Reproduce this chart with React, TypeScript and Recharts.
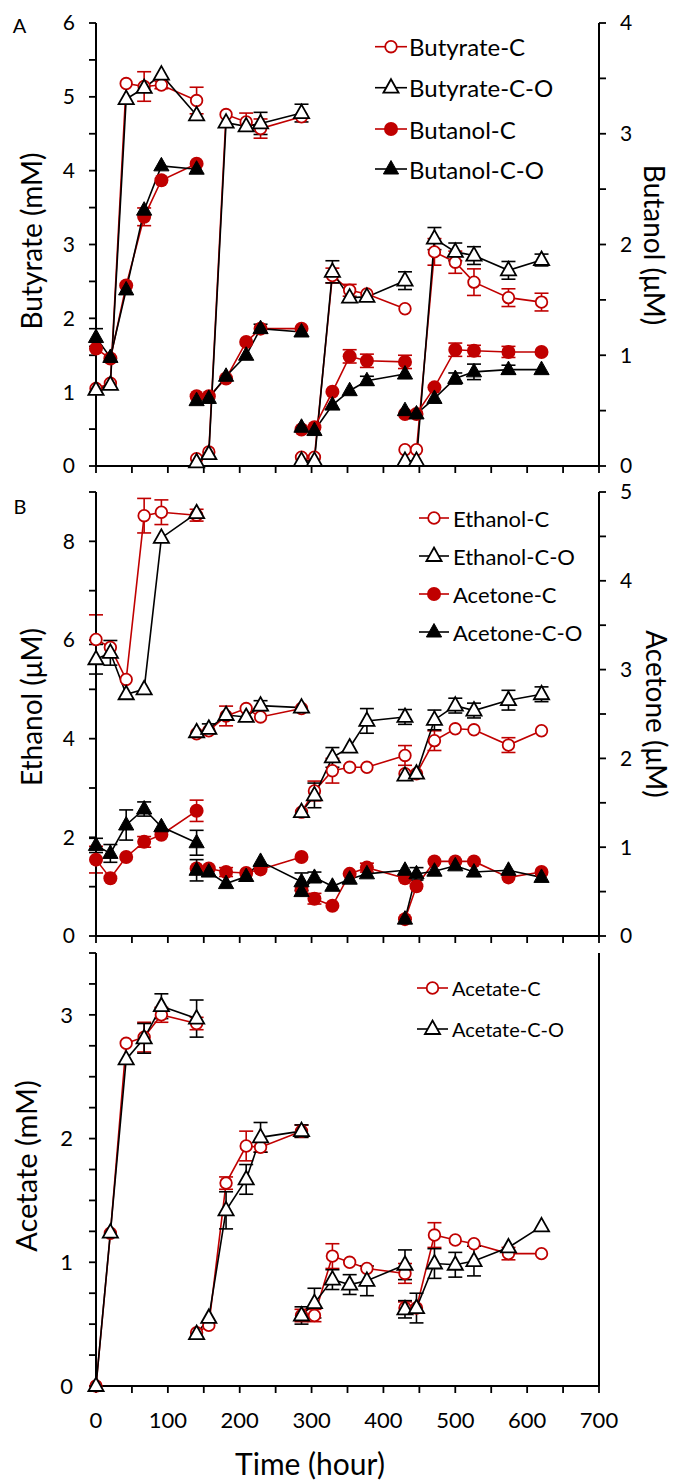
import React from "react";
import { LineChart, Line, XAxis, YAxis, ErrorBar } from "recharts";

const RED = "#C00000";
const BLACK = "#000000";
const FONT = "Lato, 'Open Sans', sans-serif";

// sampling times (hour); each feeding batch starts again at the last time of the previous one
const hours = [0, 20, 42, 67, 91, 140, 140, 157, 181, 209, 229, 286, 286, 304, 329, 353, 377, 430, 430, 446, 471, 500, 526, 574, 620];
const batchStarts = [6, 12, 18];

// panel A
const butyrateC = [1.05, 1.12, 5.18, 5.14, 5.16, 4.95, 0.1, 0.19, 4.76, 4.66, 4.57, 4.73, 0.12, 0.12, 2.58, 2.38, 2.33, 2.13, 0.22, 0.22, 2.9, 2.76, 2.49, 2.28, 2.22];
const butyrateCO = [1.03, 1.1, 4.97, 5.12, 5.3, 4.75, 0.05, 0.16, 4.65, 4.6, 4.64, 4.78, 0.07, 0.07, 2.63, 2.28, 2.29, 2.51, 0.07, 0.07, 3.08, 2.9, 2.85, 2.65, 2.79];
const butanolC = [1.06, 0.97, 1.63, 2.25, 2.58, 2.73, 0.63, 0.63, 0.79, 1.12, 1.24, 1.24, 0.33, 0.35, 0.67, 0.99, 0.95, 0.94, 0.47, 0.47, 0.71, 1.05, 1.04, 1.03, 1.03];
const butanolCO = [1.16, 0.98, 1.59, 2.31, 2.71, 2.68, 0.59, 0.61, 0.81, 1.0, 1.24, 1.21, 0.35, 0.32, 0.55, 0.68, 0.77, 0.83, 0.5, 0.47, 0.61, 0.79, 0.85, 0.87, 0.87];
const butyrateCErr = [0, 0, 0, 0.2, 0.05, 0.18, 0, 0, 0, 0.12, 0.13, 0, 0, 0, 0.1, 0.08, 0, 0, 0, 0, 0.18, 0.15, 0.18, 0.12, 0.12];
const butyrateCOErr = [0, 0, 0, 0, 0, 0, 0, 0, 0, 0, 0.15, 0.12, 0, 0, 0.15, 0, 0, 0.12, 0, 0, 0.15, 0.12, 0.12, 0.12, 0.08];
const butanolCErr = [0, 0, 0, 0.08, 0, 0, 0, 0, 0, 0, 0, 0, 0, 0, 0, 0.06, 0.06, 0.06, 0, 0, 0, 0.06, 0.05, 0.05, 0];
const butanolCOErr = [0.08, 0, 0, 0, 0, 0, 0, 0, 0, 0, 0.04, 0, 0, 0, 0, 0, 0.04, 0, 0, 0, 0, 0.05, 0.07, 0.04, 0];

// panel B
const ethanolC = [6.01, 5.85, 5.2, 8.52, 8.59, 8.53, 4.1, 4.16, 4.46, 4.61, 4.44, 4.61, 2.51, 2.94, 3.35, 3.42, 3.42, 3.66, 3.29, 3.29, 3.96, 4.2, 4.18, 3.87, 4.16];
const ethanolCO = [5.61, 5.74, 4.9, 5.0, 8.07, 8.57, 4.13, 4.2, 4.48, 4.44, 4.67, 4.63, 2.51, 2.85, 3.62, 3.82, 4.36, 4.44, 3.25, 3.29, 4.38, 4.67, 4.57, 4.78, 4.9];
const acetoneC = [0.86, 0.65, 0.89, 1.06, 1.14, 1.41, 0.76, 0.76, 0.72, 0.71, 0.75, 0.89, 0.52, 0.42, 0.34, 0.7, 0.77, 0.65, 0.19, 0.56, 0.84, 0.84, 0.84, 0.66, 0.72];
const acetoneCO = [1.02, 0.93, 1.25, 1.43, 1.23, 1.05, 0.74, 0.72, 0.59, 0.67, 0.84, 0.61, 0.5, 0.66, 0.56, 0.64, 0.7, 0.74, 0.19, 0.7, 0.73, 0.79, 0.72, 0.74, 0.66];
const ethanolCErr = [0.5, 0, 0, 0.35, 0.25, 0.12, 0, 0, 0.2, 0, 0, 0, 0, 0.2, 0.25, 0, 0, 0.2, 0, 0, 0.2, 0, 0, 0.15, 0];
const ethanolCOErr = [0.3, 0.25, 0, 0, 0, 0, 0, 0.1, 0, 0, 0.1, 0, 0, 0.25, 0.2, 0, 0.25, 0.15, 0, 0, 0.2, 0.15, 0.15, 0.2, 0.15];
const acetoneCErr = [0.15, 0, 0, 0.06, 0, 0.12, 0, 0, 0.05, 0, 0, 0, 0, 0.06, 0, 0, 0.05, 0, 0, 0, 0, 0, 0, 0, 0];
const acetoneCOErr = [0.08, 0.1, 0.17, 0.08, 0, 0.14, 0.12, 0, 0, 0, 0, 0.1, 0, 0.06, 0, 0, 0, 0, 0, 0.07, 0, 0, 0, 0, 0];

// panel C
const acetateC = [0, 1.235, 2.77, 2.82, 3.0, 2.93, 0.43, 0.49, 1.64, 1.94, 1.93, 2.06, 0.57, 0.57, 1.05, 1.0, 0.95, 0.91, 0.63, 0.63, 1.22, 1.18, 1.15, 1.07, 1.07];
const acetateCO = [0, 1.24, 2.64, 2.81, 3.07, 2.97, 0.42, 0.55, 1.42, 1.67, 2.01, 2.06, 0.57, 0.67, 0.86, 0.82, 0.85, 0.98, 0.62, 0.63, 0.99, 0.98, 1.01, 1.12, 1.29];
const acetateCErr = [0, 0, 0, 0.12, 0.06, 0.05, 0, 0, 0.05, 0.12, 0.04, 0.05, 0.05, 0.05, 0.1, 0, 0, 0.08, 0.05, 0, 0.1, 0, 0, 0.05, 0];
const acetateCOErr = [0, 0, 0, 0.12, 0.1, 0.15, 0, 0, 0.15, 0.12, 0.12, 0.05, 0.07, 0.12, 0.08, 0.08, 0.12, 0.12, 0.07, 0.12, 0.12, 0.1, 0.12, 0, 0];

const xTicks = [0, 50, 100, 150, 200, 250, 300, 350, 400, 450, 500, 550, 600, 650, 700];
const yTicksA = [0, 0.5, 1, 1.5, 2, 2.5, 3, 3.5, 4, 4.5, 5, 5.5, 6];
const yTicksARight = [0, 0.5, 1, 1.5, 2, 2.5, 3, 3.5, 4];
const yTicksB = [0, 1, 2, 3, 4, 5, 6, 7, 8, 9];
const yTicksBRight = [0, 0.5, 1, 1.5, 2, 2.5, 3, 3.5, 4, 4.5, 5];
const yTicksC = [0, 0.25, 0.5, 0.75, 1, 1.25, 1.5, 1.75, 2, 2.25, 2.5, 2.75, 3, 3.25, 3.5];

function buildRows(series: Record<string, number[]>) {
  const rows: any[] = [];
  hours.forEach((h, i) => {
    if (batchStarts.includes(i)) {
      // empty row so each batch is drawn as its own segment
      const gap: any = { t: h };
      for (const k in series) gap[k] = null;
      rows.push(gap);
    }
    const row: any = { t: h };
    for (const k in series) row[k] = series[k][i];
    rows.push(row);
  });
  return rows;
}

const dataA = buildRows({ butyrateC, butyrateCO, butanolC, butanolCO, butyrateCErr, butyrateCOErr, butanolCErr, butanolCOErr });
const dataB = buildRows({ ethanolC, ethanolCO, acetoneC, acetoneCO, ethanolCErr, ethanolCOErr, acetoneCErr, acetoneCOErr });
const dataC = buildRows({ acetateC, acetateCO, acetateCErr, acetateCOErr });

type Kind = "openCircle" | "openTri" | "fillCircle" | "fillTri";

function Marker({ kind, cx, cy }: { kind: Kind; cx: number; cy: number }) {
  if (kind === "openCircle")
    return <circle cx={cx} cy={cy} r={5.8} fill="#fff" stroke={RED} strokeWidth={1.8} />;
  if (kind === "fillCircle") return <circle cx={cx} cy={cy} r={7} fill={RED} />;
  const path = `M${cx},${cy - 8.5} L${cx + 7.6},${cy + 5} L${cx - 7.6},${cy + 5} Z`;
  if (kind === "openTri") return <path d={path} fill="#fff" stroke={BLACK} strokeWidth={1.8} />;
  return <path d={path} fill={BLACK} stroke={BLACK} strokeWidth={1} />;
}

const dot = (kind: Kind) => (p: any) => {
  if (p.cx == null || p.cy == null || p.value == null || Number.isNaN(p.cy))
    return <g key={`e-${p.index}`} />;
  return (
    <g key={`d-${p.index}`}>
      <Marker kind={kind} cx={p.cx} cy={p.cy} />
    </g>
  );
};

const intLabel = (v: number) => (Number.isInteger(v) ? String(v) : "");
const evenLabel = (v: number) => (v % 2 === 0 ? String(v) : "");
const hundredLabel = (v: number) => (v % 100 === 0 ? String(v) : "");
const noLabel = () => "";

const tickStyle = { fontSize: 21, fontFamily: FONT, fill: "#000" };
const tickStyleC = { fontSize: 22, fontFamily: FONT, fill: "#000" };
const axisLine = { stroke: BLACK, strokeWidth: 2 };
const tickLine = { stroke: BLACK, strokeWidth: 1.8 };

function series(key: string, errKey: string, yAxisId: string, color: string, kind: Kind) {
  return (
    <Line
      key={key}
      type="linear"
      dataKey={key}
      yAxisId={yAxisId}
      stroke={color}
      strokeWidth={1.6}
      dot={dot(kind)}
      activeDot={false}
      connectNulls={false}
      isAnimationActive={false}
    >
      <ErrorBar dataKey={errKey} width={7} stroke={color} strokeWidth={1.6} direction="y" />
    </Line>
  );
}

function topFrame() {
  return (
    <XAxis xAxisId="top" orientation="top" type="number" domain={[0, 700]} height={0} tick={false} tickLine={false} axisLine={{ stroke: BLACK, strokeWidth: 1.6 }} />
  );
}

function bottomAxis(labels: (v: number) => string, height: number, style: any, margin: number) {
  return (
    <XAxis
      type="number"
      dataKey="t"
      domain={[0, 700]}
      ticks={xTicks}
      interval={0}
      height={height}
      tickFormatter={labels}
      tick={style}
      tickSize={7}
      tickMargin={margin}
      axisLine={axisLine}
      tickLine={tickLine}
    />
  );
}

function LegendBlock({ items, ys, x1, x2, textX, fontSize }: { items: { label: string; color: string; kind: Kind }[]; ys: number[]; x1: number; x2: number; textX: number; fontSize: number }) {
  return (
    <g>
      {items.map((it, i) => (
        <g key={it.label}>
          <line x1={x1} x2={x2} y1={ys[i]} y2={ys[i]} stroke={it.color} strokeWidth={1.6} />
          <Marker kind={it.kind} cx={(x1 + x2) / 2} cy={ys[i]} />
          <text x={textX} y={ys[i]} dominantBaseline="central" fontSize={fontSize} fontFamily={FONT} fill="#000">
            {it.label}
          </text>
        </g>
      ))}
    </g>
  );
}

const titleStyle = { fontSize: 28, fontFamily: FONT, fill: "#000" };

export default function App() {
  return (
    <div style={{ position: "absolute", left: 0, top: 0, width: 674, height: 1481, background: "#fff" }}>
      <div style={{ position: "absolute", left: 0, top: 0 }}>
        <LineChart width={674} height={480} data={dataA} margin={{ top: 23, right: 0, bottom: 0, left: 0 }}>
          {bottomAxis(noLabel, 14, tickStyle, 16)}
          {topFrame()}
          <YAxis yAxisId="l" domain={[0, 6]} ticks={yTicksA} interval={0} width={96} tickFormatter={intLabel} tick={tickStyle} tickSize={7} tickMargin={14} axisLine={axisLine} tickLine={tickLine} />
          <YAxis yAxisId="r" orientation="right" domain={[0, 4]} ticks={yTicksARight} interval={0} width={75} tickFormatter={intLabel} tick={{ ...tickStyle, textAnchor: "start" }} tickSize={7} tickMargin={14} axisLine={axisLine} tickLine={tickLine} />
          {series("butyrateC", "butyrateCErr", "l", RED, "openCircle")}
          {series("butyrateCO", "butyrateCOErr", "l", BLACK, "openTri")}
          {series("butanolC", "butanolCErr", "r", RED, "fillCircle")}
          {series("butanolCO", "butanolCOErr", "r", BLACK, "fillTri")}
        </LineChart>
      </div>
      <div style={{ position: "absolute", left: 0, top: 470 }}>
        <LineChart width={674} height={480} data={dataB} margin={{ top: 22, right: 0, bottom: 0, left: 0 }}>
          {bottomAxis(noLabel, 14, tickStyle, 16)}
          {topFrame()}
          <YAxis yAxisId="l" domain={[0, 9]} ticks={yTicksB} interval={0} width={96} tickFormatter={evenLabel} tick={tickStyle} tickSize={7} tickMargin={14} axisLine={axisLine} tickLine={tickLine} />
          <YAxis yAxisId="r" orientation="right" domain={[0, 5]} ticks={yTicksBRight} interval={0} width={75} tickFormatter={intLabel} tick={{ ...tickStyle, textAnchor: "start" }} tickSize={7} tickMargin={14} axisLine={axisLine} tickLine={tickLine} />
          {series("ethanolC", "ethanolCErr", "l", RED, "openCircle")}
          {series("ethanolCO", "ethanolCOErr", "l", BLACK, "openTri")}
          {series("acetoneC", "acetoneCErr", "r", RED, "fillCircle")}
          {series("acetoneCO", "acetoneCOErr", "r", BLACK, "fillTri")}
        </LineChart>
      </div>
      <div style={{ position: "absolute", left: 0, top: 940 }}>
        <LineChart width={674} height={541} data={dataC} margin={{ top: 13, right: 0, bottom: 0, left: 0 }}>
          {bottomAxis(hundredLabel, 95, tickStyleC, 19)}
          {topFrame()}
          <YAxis yAxisId="l" domain={[0, 3.5]} ticks={yTicksC} interval={0} width={96} tickFormatter={intLabel} tick={tickStyleC} tickSize={7} tickMargin={16} axisLine={axisLine} tickLine={tickLine} />
          <YAxis yAxisId="r" orientation="right" domain={[0, 3.5]} width={75} tick={false} tickLine={false} axisLine={axisLine} />
          {series("acetateC", "acetateCErr", "l", RED, "openCircle")}
          {series("acetateCO", "acetateCOErr", "l", BLACK, "openTri")}
        </LineChart>
      </div>
      <svg width={674} height={1481} style={{ position: "absolute", left: 0, top: 0, pointerEvents: "none" }}>
        <text x={19.5} y={25} textAnchor="middle" dominantBaseline="central" fontSize={20} fontFamily={FONT}>A</text>
        <text x={20} y={506} textAnchor="middle" dominantBaseline="central" fontSize={20} fontFamily={FONT}>B</text>
        <text transform="translate(31,241) rotate(-90)" textAnchor="middle" dominantBaseline="central" {...titleStyle}>Butyrate (mM)</text>
        <text transform="translate(655,245) rotate(90)" textAnchor="middle" dominantBaseline="central" {...titleStyle}>Butanol (μM)</text>
        <text transform="translate(31,707) rotate(-90)" textAnchor="middle" dominantBaseline="central" {...titleStyle}>Ethanol (μM)</text>
        <text transform="translate(657,714) rotate(90)" textAnchor="middle" dominantBaseline="central" {...titleStyle}>Acetone (μM)</text>
        <text transform="translate(25,1166) rotate(-90)" textAnchor="middle" dominantBaseline="central" {...titleStyle} fontSize={29}>Acetate (mM)</text>
        <text x={310} y={1463} textAnchor="middle" dominantBaseline="central" {...titleStyle} fontSize={30}>Time (hour)</text>
        <LegendBlock
          items={[
            { label: "Butyrate-C", color: RED, kind: "openCircle" },
            { label: "Butyrate-C-O", color: BLACK, kind: "openTri" },
            { label: "Butanol-C", color: RED, kind: "fillCircle" },
            { label: "Butanol-C-O", color: BLACK, kind: "fillTri" },
          ]}
          ys={[46.7, 87.7, 129, 169]}
          x1={375}
          x2={407}
          textX={409}
          fontSize={24}
        />
        <LegendBlock
          items={[
            { label: "Ethanol-C", color: RED, kind: "openCircle" },
            { label: "Ethanol-C-O", color: BLACK, kind: "openTri" },
            { label: "Acetone-C", color: RED, kind: "fillCircle" },
            { label: "Acetone-C-O", color: BLACK, kind: "fillTri" },
          ]}
          ys={[518, 556, 594, 632]}
          x1={419}
          x2={449}
          textX={453}
          fontSize={22}
        />
        <LegendBlock
          items={[
            { label: "Acetate-C", color: RED, kind: "openCircle" },
            { label: "Acetate-C-O", color: BLACK, kind: "openTri" },
          ]}
          ys={[988, 1029]}
          x1={417}
          x2={448}
          textX={452}
          fontSize={20}
        />
      </svg>
    </div>
  );
}
